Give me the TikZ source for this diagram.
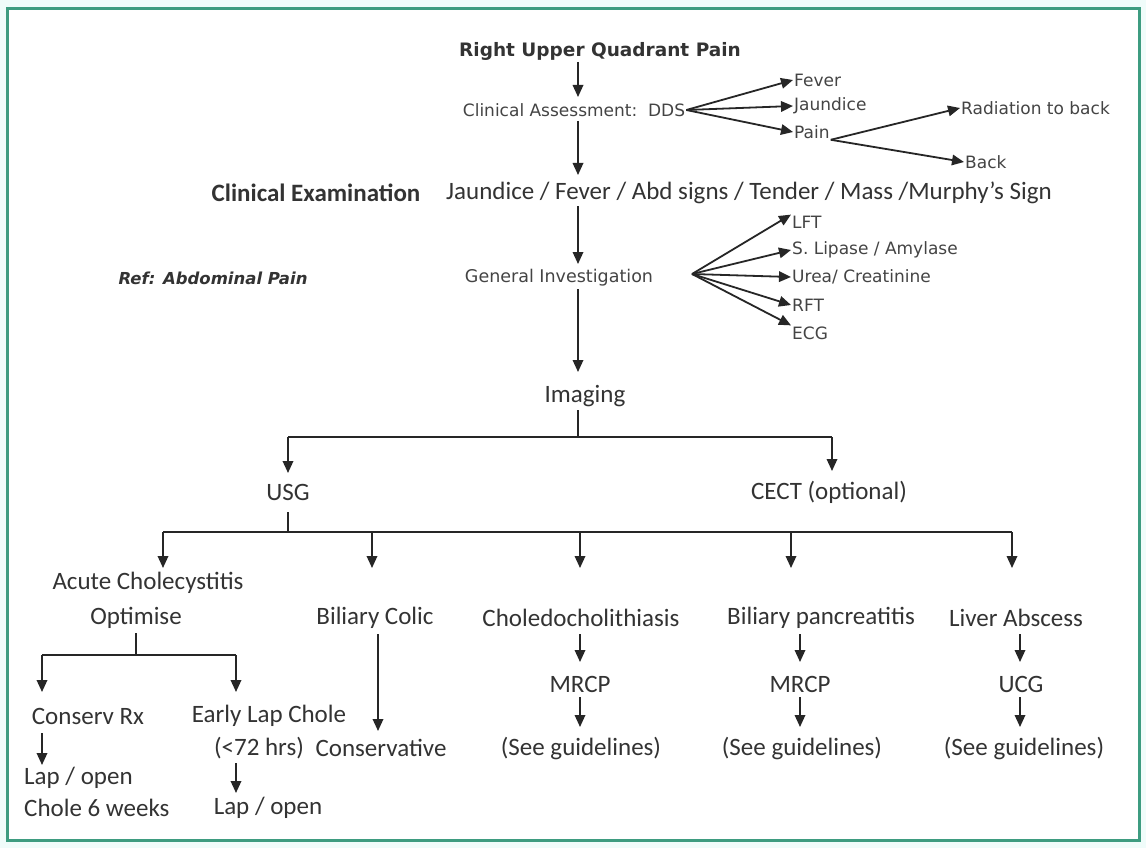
\documentclass[tikz,border=0pt]{standalone}
\usepackage{fontspec}
\setmainfont{Carlito}
\newfontfamily\vfont{DejaVu Sans}
\usetikzlibrary{arrows.meta}
\definecolor{txt}{HTML}{333333}
\definecolor{smtxt}{HTML}{444444}
\definecolor{framec}{HTML}{3E9C80}
\definecolor{bgc}{HTML}{F0FCFA}
\begin{document}
\begin{tikzpicture}[x=1pt,y=-1pt,
 arr/.style={-{Triangle[length=12pt,width=10.5pt]}, line width=1.8pt, draw=black!85},
 ln/.style={line width=1.8pt, draw=black!85},
 big/.style={font=\fontsize{25}{29}\selectfont, text=txt, inner sep=1pt},
 sm/.style={font=\vfont\fontsize{17}{20}\selectfont, text=smtxt, inner sep=1pt},
]
\fill[bgc] (0,0) rectangle (1146,848);
\draw[framec, line width=3pt, fill=white] (7,9) rectangle (1139,840);
\useasboundingbox (0,0) rectangle (1146,848);

% top part
\node[sm, text=txt, font=\vfont\bfseries\fontsize{18.5}{22}\selectfont] (title) at (600,51) {Right Upper Quadrant Pain};
\node[sm, font=\vfont\fontsize{17}{20}\selectfont] (ca) at (574,110) {Clinical Assessment:~~DDS};
\node[sm, anchor=west] (fever) at (793,80) {Fever};
\node[sm, anchor=west] (jaund) at (793,106) {Jaundice};
\node[sm, anchor=west] (pain) at (793,132) {Pain};
\node[sm, anchor=west] (rad) at (960,108) {Radiation to back};
\node[sm, anchor=west] (back) at (964,162) {Back};

\draw[arr] (578,62) -- (578,97);
\draw[arr] (578,121) -- (578,175);
\draw[arr] (ca.east) -- (fever.west);
\draw[arr] (ca.east) -- (jaund.west);
\draw[arr] (ca.east) -- (pain.west);
\draw[arr] (pain.south east) -- (rad.west);
\draw[arr] (pain.south east) -- (back.west);

\node[big, font=\bfseries\fontsize{25}{29}\selectfont] (ce) at (316,193) {Clinical Examination};
\node[big] (cef) at (749,193) {Jaundice / Fever / Abd signs / Tender / Mass /Murphy's Sign};

\draw[arr] (578,206) -- (578,264);
\node[sm, font=\vfont\fontsize{17.5}{20}\selectfont] (gi) at (559,278) {General Investigation};
\node[sm, text=txt, font=\vfont\bfseries\itshape\fontsize{16.5}{19}\selectfont] (ref) at (213,278) {Ref: Abdominal Pain};
\coordinate (gifan) at (692,274);
\node[sm, anchor=west] (lft) at (791,222) {LFT};
\node[sm, anchor=west] (lip) at (791,250) {S. Lipase / Amylase};
\node[sm, anchor=west] (urea) at (791,277) {Urea/ Creatinine};
\node[sm, anchor=west] (rft) at (791,305) {RFT};
\node[sm, anchor=west] (ecg) at (791,333) {ECG};
\draw[arr] (gifan) -- (lft.north west);
\draw[arr] (gifan) -- (lip.west);
\draw[arr] (gifan) -- (urea.west);
\draw[arr] (gifan) -- (rft.west);
\draw[arr] (gifan) -- (ecg.north west);

\draw[arr] (578,289) -- (578,372);
\node[big] (img) at (585,396) {Imaging};

% imaging split
\coordinate (isplit) at (578,437);
\node[big] (usg) at (288,492) {USG};
\node[big] (cect) at (829,492) {CECT (optional)};
\draw[ln] (578,410) -- (isplit);
\draw[ln] (288,437) -- (832,437);
\draw[arr] (288,437) -- (288,473);
\draw[arr] (832,437) -- (832,471);

% USG split
\draw[ln] (288,512) -- (288,532);
\draw[ln] (163,532) -- (1012,532);
\foreach \xx in {163,372,580,791,1012} \draw[arr] (\xx,532) -- (\xx,568);

\node[big] (acute) at (148,583) {Acute Cholecystitis};
\node[big] (opt) at (136,618) {Optimise};
\node[big] (bc) at (375,618) {Biliary Colic};
\node[big] (cdl) at (581,618) {Choledocholithiasis};
\node[big] (bp) at (821,618) {Biliary pancreatitis};
\node[big] (la) at (1016,618) {Liver Abscess};

% acute branch
\draw[ln] (136,633) -- (136,655);
\draw[ln] (42,655) -- (236,655);
\draw[arr] (42,655) -- (42,692);
\draw[arr] (236,655) -- (236,692);
\node[big] (crx) at (88,716) {Conserv Rx};
\node[big] (elc) at (269,716) {Early Lap Chole};
\node[big] (h72) at (259,748) {(<72 hrs)};
\draw[arr] (42,733) -- (42,765);
\node[big, anchor=west] (lo1) at (23,778) {Lap / open};
\node[big, anchor=west] (c6) at (23,808) {Chole 6 weeks};
\draw[arr] (236,763) -- (236,793);
\node[big] (lo2) at (268,808) {Lap / open};

% biliary colic
\draw[arr] (378,634) -- (378,731);
\node[big] (cons) at (381,748) {Conservative};

% choledocholithiasis
\draw[arr] (580,634) -- (580,662);
\node[big] (mr1) at (580,684) {MRCP};
\draw[arr] (580,697) -- (580,727);
\node[big] (sg1) at (581,748) {(See guidelines)};

% biliary pancreatitis
\draw[arr] (800,634) -- (800,662);
\node[big] (mr2) at (800,684) {MRCP};
\draw[arr] (800,697) -- (800,727);
\node[big] (sg2) at (802,748) {(See guidelines)};

% liver abscess
\draw[arr] (1020,634) -- (1020,662);
\node[big] (ucg) at (1021,684) {UCG};
\draw[arr] (1020,697) -- (1020,727);
\node[big] (sg3) at (1024,748) {(See guidelines)};
\end{tikzpicture}
\end{document}
